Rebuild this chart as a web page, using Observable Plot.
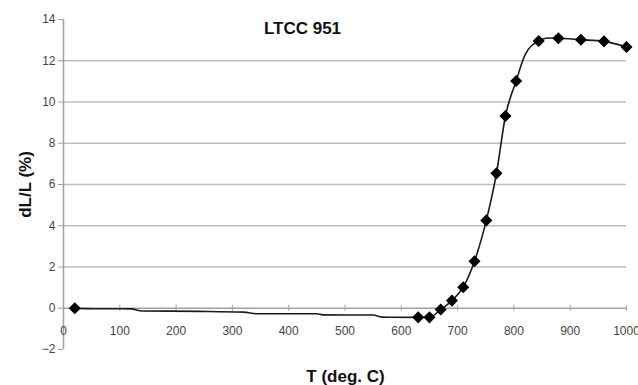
<!DOCTYPE html>
<html>
<head>
<meta charset="utf-8">
<script src="https://cdn.jsdelivr.net/npm/d3@7"></script>
<script src="https://cdn.jsdelivr.net/npm/@observablehq/plot@0.6"></script>
<style>
  html, body { margin: 0; padding: 0; background: #fff; }
  #chart { position: relative; width: 638px; height: 385px; }
  svg { font-family: "Liberation Sans", Arial, sans-serif; }
</style>
</head>
<body>
<div id="chart"></div>
<script>
// Marker points (temperature, dL/L %)
const markerT = [20, 630, 650, 670, 690, 710, 730, 751, 769, 785, 804, 844, 879, 919, 960, 1000];
const markerV = [0, -0.44, -0.44, -0.06, 0.37, 1.02, 2.28, 4.26, 6.54, 9.32, 11.02, 12.96, 13.09, 13.02, 12.94, 12.67];
// Extra points on the continuous curve between markers
const curveT = [40, 120, 140, 240, 320, 345, 450, 460, 550, 565, 820, 860];
const curveV = [-0.02, -0.03, -0.13, -0.15, -0.19, -0.27, -0.27, -0.32, -0.33, -0.43, 12.3, 13.1];
const xTicks = [0, 100, 200, 300, 400, 500, 600, 700, 800, 900, 1000];
const yTicks = [-2, 0, 2, 4, 6, 8, 10, 12, 14];
const gridValues = [2, 4, 6, 8, 10, 12];
const title = "LTCC 951";
const xLabel = "T (deg. C)";
const yLabel = "dL/L (%)";

const markers = markerT.map((t, i) => ({t, v: markerV[i]}));
const curve = markers.concat(curveT.map((t, i) => ({t, v: curveV[i]}))).sort((a, b) => a.t - b.t);

const chart = Plot.plot({
  width: 638,
  height: 385,
  marginLeft: 63,
  marginRight: 12,
  marginTop: 19,
  marginBottom: 36,
  style: {fontFamily: "'Liberation Sans', Arial, sans-serif", fontSize: "12px", background: "#fff", overflow: "visible"},
  x: {domain: [0, 1000], axis: null},
  y: {domain: [-2, 14], axis: null},
  marks: [
    Plot.gridY(gridValues, {stroke: "#bdbdbd", strokeOpacity: 1, strokeWidth: 1.5}),
    Plot.ruleY([0], {stroke: "#a0a0a0", strokeWidth: 1.5}),
    Plot.ruleX([0], {y1: -2, y2: 14, stroke: "#a0a0a0", strokeWidth: 1.5}),
    Plot.axisY(yTicks, {tickSize: 5, tickPadding: 3, stroke: "#a0a0a0", fill: "#444", fontSize: 12, label: null}),
    Plot.ruleX(xTicks, {y1: 0, y2: 0, insetTop: -3, insetBottom: -3, stroke: "#a0a0a0", strokeWidth: 1}),
    Plot.text(xTicks, {x: d => d, y: 0, dy: 23, text: d => String(d), fill: "#444", fontSize: 12}),
    Plot.line(curve, {x: "t", y: "v", curve: "monotone-x", stroke: "#1a1a1a", strokeWidth: 1.6}),
    Plot.dot(markers, {x: "t", y: "v", symbol: "diamond2", r: 4.5, fill: "#000", stroke: "#000"}),
    Plot.text([title], {frameAnchor: "top-left", dx: 239, dy: 9, lineAnchor: "middle", text: d => d, fontWeight: "bold", fontSize: 17, fill: "#111", textAnchor: "middle"}),
    Plot.text([xLabel], {frameAnchor: "bottom-left", dx: 282, dy: 27, lineAnchor: "middle", text: d => d, fontWeight: "bold", fontSize: 17, fill: "#111", textAnchor: "middle"}),
    Plot.text([yLabel], {frameAnchor: "left", dx: -38, dy: 0, lineAnchor: "middle", rotate: -90, text: d => d, fontWeight: "bold", fontSize: 17, fill: "#111", textAnchor: "middle"})
  ]
});
document.getElementById("chart").appendChild(chart);
</script>
</body>
</html>
